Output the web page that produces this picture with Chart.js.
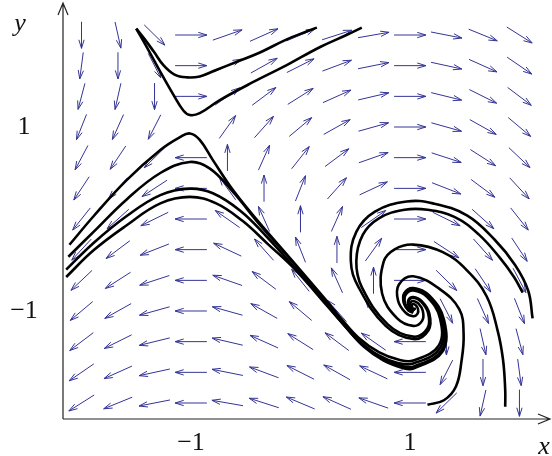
<!DOCTYPE html>
<html>
<head>
<meta charset="utf-8">
<script src="https://cdn.jsdelivr.net/npm/chart.js@4.4.1/dist/chart.umd.min.js"></script>
<style>
  html, body { margin: 0; padding: 0; background: #fff; }
</style>
</head>
<body>
<canvas id="phase" width="552" height="456"></canvas>
<script>
// direction field grid
const fieldX = [-2, -1.667, -1.333, -1, -0.667, -0.333, 0, 0.333, 0.667, 1, 1.333, 1.667, 2];
const fieldY = [-2, -1.667, -1.333, -1, -0.667, -0.333, 0, 0.333, 0.667, 1, 1.333, 1.667, 2];

// x' = x + y,  y' = 1 - x^2
const rhs = (x, y) => [x + y, 1 - x * x];

const xTicks = [-1, 1];
const yTicks = [-1, 1];

// solution curves, [x, y] pairs
// two passing the saddle from the top left
const upperA = [[-1.50,2.07],[-1.42,1.95],[-1.34,1.82],[-1.25,1.67],[-1.15,1.57],[-1.04,1.54],[-0.92,1.55],[-0.77,1.62],[-0.58,1.71],[-0.37,1.81],[-0.13,1.95],[0.06,2.04],[0.15,2.08]];
const upperB = [[-1.50,2.07],[-1.40,1.86],[-1.28,1.60],[-1.16,1.35],[-1.07,1.18],[-1.01,1.13],[-0.92,1.15],[-0.74,1.29],[-0.43,1.49],[-0.13,1.67],[0.18,1.87],[0.42,2.00],[0.56,2.08]];

// out of the focus, up along the stable branch, then off to the left
const leftA = [[-2.11,-0.28],[-1.89,0.03],[-1.59,0.42],[-1.28,0.75],[-1.10,0.89],[-1.01,0.93],[-0.92,0.86],[-0.80,0.64],[-0.62,0.32],[-0.39,-0.02],[-0.10,-0.42],[0.21,-0.85],[0.37,-1.08],[0.53,-1.29],[0.72,-1.45],[0.90,-1.53],[1.03,-1.538],[1.262,-1.377],[1.274,-1.077],[1.158,-0.850],[1.03,-0.777],[0.959,-0.826],[0.955,-0.918],[0.991,-0.987],[1.03,-1.010]];
const leftB = [[-2.12,-0.41],[-1.89,-0.14],[-1.59,0.21],[-1.28,0.50],[-1.01,0.62],[-0.83,0.55],[-0.62,0.30],[-0.38,-0.05],[-0.09,-0.44],[0.20,-0.87],[0.36,-1.10],[0.53,-1.32],[0.71,-1.48],[0.89,-1.565],[1.03,-1.571],[1.275,-1.402],[1.288,-1.084],[1.166,-0.844],[1.03,-0.767],[0.955,-0.819],[0.951,-0.916],[0.989,-0.989],[1.03,-1.013]];
const leftC = [[-2.14,-0.55],[-1.89,-0.26],[-1.59,0.03],[-1.28,0.26],[-1.01,0.33],[-0.80,0.28],[-0.55,0.09],[-0.31,-0.19],[-0.06,-0.52],[0.22,-0.90],[0.39,-1.14],[0.56,-1.36],[0.74,-1.51],[0.93,-1.60],[1.03,-1.605],[1.289,-1.426],[1.302,-1.091],[1.173,-0.838],[1.03,-0.756],[0.951,-0.811],[0.947,-0.913],[0.986,-0.991],[1.03,-1.016]];
const leftD = [[-2.14,-0.63],[-1.89,-0.34],[-1.59,-0.07],[-1.28,0.17],[-1.01,0.24],[-0.77,0.17],[-0.53,-0.02],[-0.30,-0.27],[-0.04,-0.56],[0.24,-0.94],[0.41,-1.17],[0.58,-1.39],[0.76,-1.54],[0.95,-1.625],[1.03,-1.626],[1.297,-1.441],[1.311,-1.096],[1.178,-0.834],[1.03,-0.750],[0.948,-0.806],[0.944,-0.912],[0.985,-0.992],[1.03,-1.018]];

// out of the focus, leaving on the right and at the bottom
const spiralOutA = [[1.044,-0.962],[1.043,-0.979],[1.03,-0.988],[1.006,-0.974],[0.985,-0.933],[0.987,-0.877],[1.03,-0.848],[1.107,-0.892],[1.177,-1.028],[1.169,-1.209],[1.03,-1.305],[0.778,-1.162],[0.53,-0.74],[0.46,-0.46],[0.51,-0.14],[0.68,0.08],[0.97,0.19],[1.21,0.17],[1.52,0.04],[1.77,-0.22],[1.96,-0.50],[2.08,-0.78],[2.12,-1.08]];
const spiralOutB = [[1.042,-0.977],[1.03,-0.985],[1.008,-0.973],[0.989,-0.934],[0.991,-0.883],[1.03,-0.856],[1.101,-0.897],[1.166,-1.023],[1.159,-1.190],[1.03,-1.279],[0.797,-1.146],[0.56,-0.74],[0.51,-0.46],[0.57,-0.17],[0.72,0.01],[0.95,0.10],[1.16,0.10],[1.41,0.02],[1.63,-0.17],[1.82,-0.42],[1.95,-0.63],[2.03,-0.80]];
const spiralDown = [[1.038,-0.969],[1.03,-0.974],[1.016,-0.966],[1.0035,-0.942],[1.005,-0.909],[1.03,-0.892],[1.076,-0.918],[1.117,-0.998],[1.112,-1.105],[1.03,-1.162],[0.881,-1.077],[0.746,-0.813],[0.760,-0.464],[0.86,-0.33],[1.03,-0.278],[1.30,-0.36],[1.518,-0.555],[1.70,-0.84],[1.80,-1.21],[1.85,-1.53],[1.87,-1.86],[1.87,-2.04]];
const spiralShort = [[1.023,-0.961],[1.017,-0.948],[1.018,-0.932],[1.03,-0.924],[1.052,-0.937],[1.073,-0.976],[1.070,-1.029],[1.03,-1.057],[0.957,-1.015],[0.891,-0.886],[0.898,-0.714],[1.03,-0.623],[1.269,-0.759],[1.45,-0.98],[1.49,-1.25],[1.47,-1.55],[1.42,-1.82],[1.31,-1.97],[1.16,-2.02]];

const curves = [upperA, upperB, leftA, leftB, leftC, leftD, spiralOutA, spiralOutB, spiralDown, spiralShort];

const arrowLen = 0.29;      // data units, before axis scaling
const fieldColor = 'rgb(52,52,150)';

const fieldPlugin = {
    id: 'field',
    beforeDatasetsDraw(chart) {
        const ctx = chart.ctx;
        const sx = chart.scales.x, sy = chart.scales.y;
        ctx.save();
        ctx.strokeStyle = fieldColor;
        ctx.lineWidth = 1;
        fieldY.forEach(yv => {
            fieldX.forEach(xv => {
                const [u, v] = rhs(xv, yv);
                const n = Math.hypot(u, v);
                if (n < 1e-6) return;   // equilibrium, no direction
                const hx = u / n * arrowLen / 2, hy = v / n * arrowLen / 2;
                const x0 = sx.getPixelForValue(xv - hx), y0 = sy.getPixelForValue(yv - hy);
                const x1 = sx.getPixelForValue(xv + hx), y1 = sy.getPixelForValue(yv + hy);
                const a = Math.atan2(y1 - y0, x1 - x0);
                ctx.beginPath();
                ctx.moveTo(x0, y0);
                ctx.lineTo(x1, y1);
                ctx.moveTo(x1 - 9 * Math.cos(a - 0.3), y1 - 9 * Math.sin(a - 0.3));
                ctx.lineTo(x1, y1);
                ctx.lineTo(x1 - 9 * Math.cos(a + 0.3), y1 - 9 * Math.sin(a + 0.3));
                ctx.stroke();
            });
        });
        ctx.restore();
    }
};

const axesPlugin = {
    id: 'axes',
    afterDatasetsDraw(chart) {
        const ctx = chart.ctx;
        const area = chart.chartArea;
        const sx = chart.scales.x, sy = chart.scales.y;
        ctx.save();
        ctx.strokeStyle = '#222';
        ctx.lineWidth = 1.2;
        ctx.beginPath();
        ctx.moveTo(area.left, area.bottom);
        ctx.lineTo(area.right, area.bottom);
        ctx.moveTo(area.right - 12, area.bottom - 5);
        ctx.lineTo(area.right, area.bottom);
        ctx.lineTo(area.right - 12, area.bottom + 5);
        ctx.moveTo(area.left, area.bottom);
        ctx.lineTo(area.left, area.top);
        ctx.moveTo(area.left - 5, area.top + 12);
        ctx.lineTo(area.left, area.top);
        ctx.lineTo(area.left + 5, area.top + 12);
        ctx.stroke();

        ctx.fillStyle = '#111';
        ctx.font = '26px "Liberation Serif"';
        ctx.textAlign = 'center';
        ctx.textBaseline = 'middle';
        xTicks.forEach(v => {
            ctx.fillText(v < 0 ? '\u2212' + Math.abs(v) : String(v), sx.getPixelForValue(v), area.bottom + 24);
        });
        yTicks.forEach(v => {
            ctx.fillText(v < 0 ? '\u2212' + Math.abs(v) : String(v), 24, sy.getPixelForValue(v));
        });
        ctx.font = 'italic 26px "Liberation Serif"';
        ctx.fillText('y', 20, 24);
        ctx.fillText('x', 544, area.bottom + 28);
        ctx.restore();
    }
};

new Chart(document.getElementById('phase'), {
    type: 'scatter',
    data: {
        datasets: curves.map(c => ({
            data: c.map(p => ({ x: p[0], y: p[1] })),
            showLine: true,
            borderColor: '#000',
            borderWidth: 2.6,
            pointRadius: 0,
            tension: 0.4,
            fill: false
        }))
    },
    options: {
        responsive: false,
        animation: false,
        devicePixelRatio: 1,
        layout: { padding: { left: 63, right: 2, top: 3, bottom: 37 } },
        scales: {
            x: { type: 'linear', min: -2.169, max: 2.279, display: false },
            y: { type: 'linear', min: -2.174, max: 2.348, display: false }
        },
        plugins: { legend: { display: false }, tooltip: { enabled: false } }
    },
    plugins: [fieldPlugin, axesPlugin]
});
</script>
</body>
</html>
